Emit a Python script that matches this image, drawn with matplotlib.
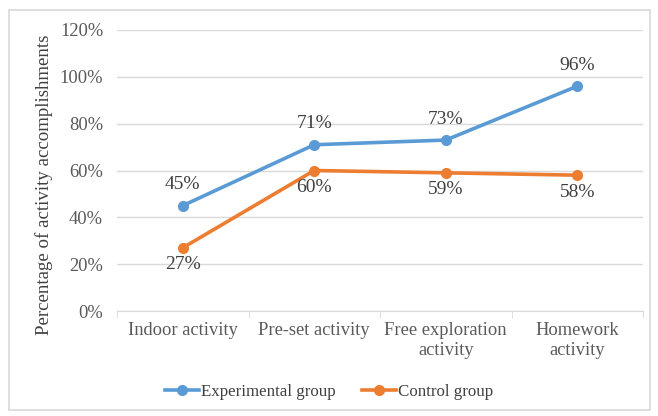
import matplotlib
matplotlib.use("Agg")
import matplotlib.pyplot as plt
from matplotlib.patches import Rectangle
from matplotlib.ticker import FixedLocator, PercentFormatter

categories = ["Indoor activity", "Pre-set activity", "Free exploration\nactivity", "Homework\nactivity"]
experimental = [45, 71, 73, 96]
control = [27, 60, 59, 58]
yticks = [0, 20, 40, 60, 80, 100, 120]

plt.rcParams['font.family'] = ['Liberation Serif', 'DejaVu Serif']

fig = plt.figure(figsize=(6.58, 4.16), dpi=100)
ax = fig.add_axes([117/658, 1 - 311/416, (643 - 117)/658, (311 - 30)/416])

fig.patches.append(Rectangle((9/658, 1 - 410/416), 641/658, 400/416, transform=fig.transFigure,
                             fill=False, edgecolor="#d9d9d9", linewidth=1.2))

x = list(range(len(categories)))
blue = "#5B9BD5"
orange = "#ED7D31"
ax.plot(x, experimental, color=blue, lw=2.6, marker="o", ms=7, label="Experimental group", zorder=3)
ax.plot(x, control, color=orange, lw=2.6, marker="o", ms=7, label="Control group", zorder=3)

for xi, v in zip(x, experimental):
    ax.annotate(f"{v}%", (xi, v), xytext=(0, 9), textcoords="offset points", ha="center", va="bottom",
                fontsize=14, color="#404040")
for xi, v in zip(x, control):
    ax.annotate(f"{v}%", (xi, v), xytext=(0, -6), textcoords="offset points", ha="center", va="top",
                fontsize=14, color="#404040")

ax.set_xlim(-0.5, len(categories) - 0.5)
ax.set_ylim(0, 120)
ax.set_yticks(yticks)
ax.yaxis.set_major_formatter(PercentFormatter(decimals=0))
ax.grid(axis="y", color="#d9d9d9", lw=1)
ax.set_axisbelow(True)
for s in ["top", "right", "left"]:
    ax.spines[s].set_visible(False)
ax.spines["bottom"].set_color("#d9d9d9")
ax.tick_params(axis="y", length=0, labelsize=13.3, labelcolor="#595959", pad=10)
ax.set_xticks(x)
ax.set_xticklabels(categories, fontsize=13.3, color="#595959", linespacing=1.2)
ax.tick_params(axis="x", length=0, pad=8)
ax.xaxis.set_minor_locator(FixedLocator([-0.5, 0.5, 1.5, 2.5, 3.5]))
ax.tick_params(axis="x", which="minor", length=5, color="#d9d9d9")

ax.set_ylabel("Percentage of activity accomplishments", fontsize=13.6, color="#404040")
ax.yaxis.set_label_coords((53 - 117) / (643 - 117), (311 - 185) / (311 - 30))

fig.legend(loc="center", bbox_to_anchor=(0.5, 1 - 392/416), ncol=2, frameon=False, fontsize=12.2,
           handlelength=2.0, columnspacing=1.6, handletextpad=0.1, labelcolor="#404040")

fig.savefig("out.png", dpi=100)
